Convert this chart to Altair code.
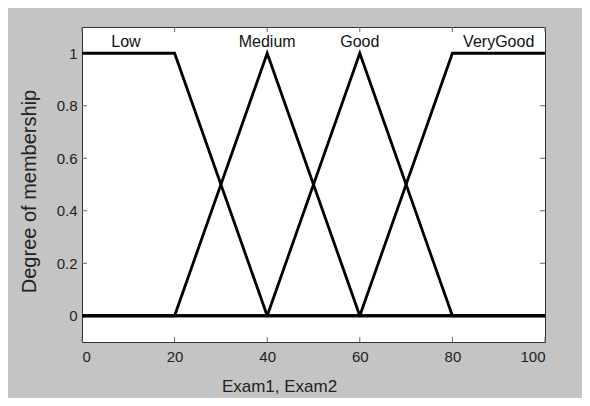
import altair as alt
import pandas as pd

# Membership functions (x breakpoints, membership degree)
sets = ["Low", "Medium", "Good", "VeryGood"]
low_x = [0, 20, 40, 100]
low_y = [1, 1, 0, 0]
medium_x = [0, 20, 40, 60, 100]
medium_y = [0, 0, 1, 0, 0]
good_x = [0, 40, 60, 80, 100]
good_y = [0, 0, 1, 0, 0]
verygood_x = [0, 60, 80, 100]
verygood_y = [0, 0, 1, 1]

label_x = [9.5, 40, 60, 90]

x_ticks = [0, 20, 40, 60, 80, 100]
y_ticks = [0, 0.2, 0.4, 0.6, 0.8, 1]

rows = []
for name, xs, ys in zip(sets, [low_x, medium_x, good_x, verygood_x],
                        [low_y, medium_y, good_y, verygood_y]):
    for i, (a, b) in enumerate(zip(xs, ys)):
        rows.append({"name": name, "x": a, "y": b, "i": i})
df = pd.DataFrame(rows)
labels = pd.DataFrame({"name": sets, "x": label_x})
xt = pd.DataFrame({"x": x_ticks})
yt = pd.DataFrame({"y": y_ticks})

FONT = "Liberation Sans"
W, H = 463, 315

xenc = alt.X("x:Q", scale=alt.Scale(domain=[0, 100], nice=False, zero=False),
             axis=alt.Axis(values=x_ticks, title="Exam1, Exam2", grid=False,
                           tickSize=0, domain=False, labelPadding=7,
                           labelFontSize=15, labelColor="#222", labelFont=FONT,
                           titleFont=FONT, titleFontSize=17, titleFontWeight="normal",
                           titleColor="#222", titleX=197, titleY=49,
                           titleBaseline="alphabetic", titleAlign="center"))
yenc = alt.Y("y:Q", scale=alt.Scale(domain=[-0.1, 1.1], nice=False, zero=False),
             axis=alt.Axis(values=y_ticks, format=".1~f", title="Degree of membership",
                           grid=False, tickSize=0, domain=False, labelPadding=5,
                           labelFontSize=15, labelColor="#222", labelFont=FONT,
                           titleFont=FONT, titleFontSize=20, titleFontWeight="normal",
                           titleColor="#222", titleAngle=270, titleX=-47, titleY=164,
                           titleBaseline="alphabetic", titleAlign="center"))

lines = alt.Chart(df).mark_line(strokeWidth=2.8, color="black").encode(
    x=xenc, y=yenc, detail="name:N", order="i:Q"
)

text = alt.Chart(labels).mark_text(
    font=FONT, fontSize=16, color="#111", baseline="alphabetic", align="center"
).encode(x=xenc, y=alt.value(20), text="name:N")

tick_color = "#666"
top_ticks = alt.Chart(xt).mark_rule(color=tick_color, strokeWidth=1).encode(
    x=xenc, y=alt.value(0), y2=alt.value(5))
bot_ticks = alt.Chart(xt).mark_rule(color=tick_color, strokeWidth=1).encode(
    x=xenc, y=alt.value(H), y2=alt.value(H - 5))
left_ticks = alt.Chart(yt).mark_rule(color=tick_color, strokeWidth=1).encode(
    y=yenc, x=alt.value(0), x2=alt.value(5))
right_ticks = alt.Chart(yt).mark_rule(color=tick_color, strokeWidth=1).encode(
    y=yenc, x=alt.value(W), x2=alt.value(W - 5))

chart = alt.layer(top_ticks, bot_ticks, left_ticks, right_ticks, lines, text).properties(
    width=W, height=H,
    autosize=alt.AutoSizeParams(type="none"),
    padding={"left": 74, "top": 19, "right": 37, "bottom": 56},
    background="#c4c4c4",
).configure_view(
    fill="white", stroke="#333", strokeWidth=1
)

chart.save("out.html", embed_options={"renderer": "svg", "actions": False})
